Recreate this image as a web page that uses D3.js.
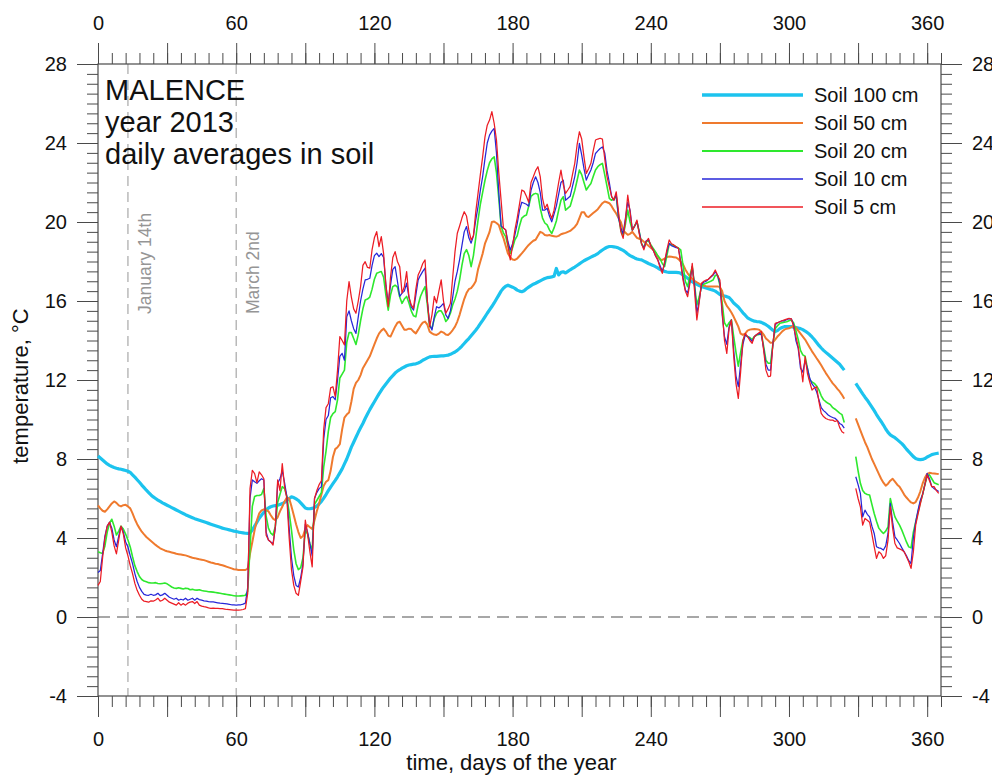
<!DOCTYPE html>
<html lang="en">
<head>
<meta charset="UTF-8" />
<title>MALENCE - soil temperature 2013</title>
<script src="https://d3js.org/d3.v7.min.js"></script>
<style>
  body { margin: 0; background: #fff; }
  svg { display: block; font-family: "Liberation Sans", Arial, sans-serif; }
</style>
</head>
<body>
<svg id="chart"></svg>
<script>
// daily averages, index = day of the year (0 = January 1st), null = no data
var soil100 = [
  8.15, 8.05, 7.95, 7.85, 7.75, 7.68, 7.62, 7.57, 7.53, 7.5,
  7.48, 7.45, 7.42, 7.38, 7.32, 7.2, 7.08, 6.95, 6.82, 6.68,
  6.55, 6.42, 6.3, 6.18, 6.08, 6.0, 5.92, 5.85, 5.78, 5.72,
  5.66, 5.6, 5.54, 5.48, 5.42, 5.36, 5.3, 5.24, 5.18, 5.13,
  5.08, 5.03, 4.98, 4.94, 4.9, 4.86, 4.82, 4.78, 4.74, 4.7,
  4.66, 4.62, 4.58, 4.54, 4.5, 4.47, 4.44, 4.41, 4.38, 4.35,
  4.33, 4.3, 4.28, 4.26, 4.24, 4.23, 4.25, 4.4, 4.6, 4.8,
  5.0, 5.15, 5.3, 5.42, 5.52, 5.58, 5.62, 5.64, 5.66, 5.7,
  5.74, 5.8, 5.9, 6.0, 6.08, 6.05, 5.98, 5.9, 5.78, 5.65,
  5.52, 5.48, 5.48, 5.5, 5.55, 5.62, 5.72, 5.85, 6.02, 6.2,
  6.4, 6.58, 6.75, 6.92, 7.1, 7.3, 7.5, 7.75, 8.0, 8.3,
  8.6, 8.85, 9.1, 9.35, 9.58, 9.8, 10.05, 10.28, 10.5, 10.7,
  10.9, 11.1, 11.3, 11.48, 11.65, 11.8, 11.95, 12.1, 12.22, 12.35,
  12.45, 12.52, 12.6, 12.66, 12.72, 12.76, 12.78, 12.8, 12.82, 12.86,
  12.92, 13.0, 13.06, 13.12, 13.17, 13.19, 13.2, 13.2, 13.21, 13.22,
  13.22, 13.24, 13.26, 13.3, 13.36, 13.42, 13.5, 13.6, 13.72, 13.85,
  13.98, 14.1, 14.24, 14.38, 14.52, 14.68, 14.85, 15.02, 15.2, 15.38,
  15.55, 15.72, 15.9, 16.1, 16.3, 16.5, 16.65, 16.75, 16.8, 16.75,
  16.7, 16.64, 16.55, 16.5, 16.47, 16.52, 16.62, 16.7, 16.78, 16.85,
  16.9, 16.96, 17.02, 17.08, 17.14, 17.18, 17.2, 17.22, 17.25, 17.65,
  17.32, 17.45, 17.48, 17.42, 17.5, 17.58, 17.65, 17.72, 17.8, 17.88,
  17.96, 18.04, 18.1, 18.16, 18.22, 18.28, 18.33, 18.4, 18.5, 18.58,
  18.66, 18.72, 18.76, 18.76, 18.74, 18.72, 18.68, 18.62, 18.56, 18.48,
  18.38, 18.3, 18.24, 18.18, 18.13, 18.1, 18.08, 18.02, 17.96, 17.9,
  17.85, 17.8, 17.74, 17.68, 17.6, 17.54, 17.5, 17.47, 17.45, 17.45,
  17.45, 17.45, 17.44, 17.4, 17.32, 17.24, 17.15, 17.06, 16.98, 16.9,
  16.84, 16.78, 16.73, 16.7, 16.66, 16.62, 16.58, 16.55, 16.5, 16.42,
  16.33, 16.28, 16.25, 16.22, 16.18, 16.05, 15.9, 15.8, 15.7, 15.55,
  15.4, 15.28, 15.15, 15.08, 15.02, 14.98, 14.96, 14.95, 14.92, 14.86,
  14.8, 14.72, 14.62, 14.52, 14.45, 14.5, 14.6, 14.66, 14.7, 14.7,
  14.7, 14.7, 14.68, 14.66, 14.63, 14.6, 14.55, 14.48, 14.4, 14.3,
  14.18, 14.05, 13.9, 13.75, 13.62, 13.5, 13.4, 13.3, 13.2, 13.1,
  13.0, 12.9, 12.8, 12.65, 12.5, null, null, null, null, 11.83,
  11.65, 11.48, 11.3, 11.13, 10.98, 10.8, 10.63, 10.45, 10.25, 10.07,
  9.9, 9.72, 9.52, 9.35, 9.22, 9.15, 9.08, 8.98, 8.88, 8.78,
  8.65, 8.5, 8.37, 8.25, 8.12, 8.03, 7.98, 7.97, 7.98, 8.02,
  8.1, 8.16, 8.22, 8.25, 8.28, 8.3
];

var soil50 = [
  5.65, 5.5, 5.38, 5.33, 5.45, 5.6, 5.75, 5.85, 5.78, 5.65,
  5.6, 5.66, 5.68, 5.6, 5.5, 5.25, 4.95, 4.7, 4.5, 4.32,
  4.18, 4.05, 3.95, 3.85, 3.75, 3.65, 3.56, 3.48, 3.42, 3.37,
  3.33, 3.3, 3.27, 3.24, 3.2, 3.18, 3.16, 3.14, 3.12, 3.08,
  3.04, 3.0, 2.98, 2.95, 2.92, 2.9, 2.88, 2.84, 2.8, 2.76,
  2.73, 2.7, 2.68, 2.65, 2.62, 2.58, 2.54, 2.5, 2.46, 2.42,
  2.4, 2.38, 2.38, 2.38, 2.38, 2.45, 3.2, 3.8, 4.4, 4.9,
  5.25, 5.4, 5.45, 5.42, 5.35, 5.15, 4.98, 4.9, 5.05, 5.35,
  5.58, 5.85, 6.05, 6.0, 5.6, 5.15, 4.7, 4.3, 4.0, 4.1,
  4.45, 4.65, 4.55, 4.45, 4.9, 5.35, 5.75, 6.2, 6.65, 6.85,
  6.93, 7.4, 8.1, 8.5, 8.6, 8.75, 9.5, 10.1, 10.25, 10.35,
  10.9, 11.55, 11.85, 12.0, 12.25, 12.6, 12.8, 13.0, 13.2, 13.5,
  13.8, 14.1, 14.35, 14.5, 14.6, 14.45, 14.25, 14.2, 14.45, 14.7,
  14.9, 14.95, 14.75, 14.55, 14.55, 14.6, 14.58, 14.45, 14.36, 14.55,
  14.75, 14.9, 14.96, 14.8, 14.45, 14.36, 14.3, 14.28, 14.35, 14.45,
  14.4, 14.3, 14.28, 14.38, 14.53, 14.7, 14.96, 15.3, 15.71, 16.1,
  16.4, 16.6, 16.65, 16.8, 17.0, 17.6, 18.0, 18.4, 18.9, 19.2,
  19.5, 20.0, 20.02, 19.95, 19.85, 19.5, 19.2, 18.8, 18.4, 18.2,
  18.1, 18.08, 18.15, 18.28, 18.41, 18.55, 18.7, 18.84, 18.95, 19.05,
  19.1, 19.3, 19.5, 19.45, 19.34, 19.32, 19.34, 19.3, 19.28, 19.26,
  19.3, 19.38, 19.42, 19.45, 19.5, 19.55, 19.65, 19.75, 19.9, 20.2,
  20.5, 20.5, 20.3, 20.25, 20.35, 20.45, 20.55, 20.65, 20.8, 20.95,
  21.04, 21.0, 20.95, 20.8, 20.6, 20.43, 20.2, 20.0, 19.6, 19.45,
  19.35, 19.4, 19.5, 19.35, 19.2, 19.15, 19.1, 19.0, 18.9, 18.8,
  18.7, 18.6, 18.45, 18.25, 18.1, 18.08, 18.15, 18.22, 18.25, 18.24,
  18.22, 18.2, 18.12, 18.0, 17.85, 17.6, 17.4, 17.25, 17.12, 17.02,
  16.95, 16.88, 16.82, 16.78, 16.75, 16.73, 16.73, 16.73, 16.74, 16.74,
  16.7, 16.5, 16.0, 15.75, 15.6, 15.42, 15.2, 14.95, 14.7, 14.35,
  14.28, 14.35, 14.5, 14.55, 14.57, 14.58, 14.57, 14.55, 14.45, 14.3,
  14.1, 14.0, 13.88, 13.9, 14.05, 14.2, 14.32, 14.45, 14.55, 14.6,
  14.62, 14.68, 14.74, 14.65, 14.5, 14.35, 14.2, 14.05, 13.85, 13.65,
  13.45, 13.28, 13.1, 12.93, 12.75, 12.55, 12.35, 12.18, 12.0, 11.83,
  11.7, 11.55, 11.42, 11.25, 11.05, null, null, null, null, 10.06,
  9.75, 9.45, 9.15, 8.85, 8.6, 8.3, 8.0, 7.75, 7.5, 7.25,
  7.0, 6.8, 6.65, 6.75, 6.9, 7.0, 6.85, 6.7, 6.6, 6.4,
  6.2, 6.05, 5.92, 5.8, 5.75, 5.82, 6.05, 6.35, 6.75, 7.05,
  7.25, 7.3, 7.28, 7.27, 7.25, 7.24
];

var soil20 = [
  3.3, 3.25, 3.22, 3.6, 4.3, 4.75, 4.95, 4.6, 4.15, 4.35,
  4.6, 4.45, 4.2, 3.9, 3.55, 3.05, 2.6, 2.3, 2.05, 1.9,
  1.82, 1.78, 1.74, 1.72, 1.72, 1.74, 1.7, 1.68, 1.7, 1.72,
  1.68, 1.6, 1.52, 1.47, 1.45, 1.48, 1.45, 1.42, 1.46, 1.44,
  1.38, 1.4, 1.37, 1.36, 1.38, 1.34, 1.32, 1.3, 1.28, 1.27,
  1.26, 1.24, 1.22, 1.2, 1.18, 1.16, 1.14, 1.12, 1.1, 1.08,
  1.06, 1.06, 1.07, 1.08, 1.1, 1.3, 3.5, 5.6, 6.1, 6.15,
  6.15, 6.2, 6.5, 5.1, 4.5, 4.25, 4.15, 4.6, 5.8, 6.2,
  6.6, 6.5, 6.1, 5.3, 4.4, 3.4, 2.7, 2.4, 2.5, 3.0,
  4.4, 4.2, 3.7, 3.4, 5.7, 5.9, 6.1, 6.3, 7.6, 8.4,
  9.4, 10.1, 10.3, 10.4, 11.0, 12.1, 12.3, 12.5, 13.9, 14.4,
  14.4, 14.1, 13.8, 14.3, 15.0, 15.6, 16.05, 16.1, 16.2, 16.6,
  17.1, 17.4, 17.45, 17.49, 17.2, 16.3, 15.54, 16.3, 16.73, 16.8,
  16.7, 16.2, 15.88, 16.1, 16.23, 15.9, 15.5, 15.25, 15.2, 15.8,
  16.23, 16.5, 16.73, 15.8, 14.7, 14.62, 15.1, 15.38, 15.5, 15.5,
  15.3, 14.96, 15.1, 15.38, 15.8, 16.1, 16.5, 17.07, 17.8, 18.4,
  18.6, 18.3, 17.74, 18.3, 19.2, 20.1, 20.9, 21.5, 22.1, 22.6,
  23.0, 23.2, 23.3, 22.5, 21.2, 19.8, 19.45, 19.26, 18.8, 18.41,
  18.7, 19.1, 19.3, 19.8, 20.2, 20.3, 20.35, 20.8, 21.3, 21.4,
  21.45, 21.4, 20.7, 20.2, 19.95, 19.85, 19.6, 19.42, 19.7, 20.05,
  20.6, 21.1, 21.28, 20.6, 20.7, 20.8, 21.2, 21.6, 22.1, 22.63,
  22.4, 22.0, 21.62, 21.8, 21.95, 22.3, 22.63, 22.8, 22.9, 22.97,
  22.4, 21.8, 21.2, 21.1, 21.2, 21.28, 20.3, 19.6, 19.3, 19.9,
  20.6, 20.0, 19.59, 19.8, 20.01, 19.5, 18.9, 18.7, 19.0, 19.05,
  18.85, 18.67, 18.5, 18.3, 18.15, 17.9, 17.74, 18.3, 18.9, 18.85,
  18.8, 18.75, 18.68, 18.59, 17.8, 17.0, 16.73, 17.3, 17.74, 16.8,
  15.8, 16.2, 16.73, 16.85, 16.9, 16.95, 17.0, 17.06, 17.3, 17.3,
  16.8, 15.9, 14.9, 14.7, 14.9, 15.04, 14.2, 13.4, 12.7, 13.4,
  14.0, 14.3, 14.2, 14.15, 14.05, 14.2, 14.28, 14.3, 14.36, 13.7,
  13.0, 12.85, 12.85, 13.8, 14.6, 14.75, 14.87, 14.9, 14.93, 14.95,
  15.0, 15.04, 14.9, 14.5, 14.05, 13.5, 13.27, 13.2, 12.6, 12.0,
  11.9, 11.83, 11.7, 11.5, 11.2, 11.0, 10.9, 10.82, 10.75, 10.6,
  10.52, 10.42, 10.32, 10.25, 9.85, null, null, null, null, 8.12,
  7.4, 6.77, 6.4, 6.26, 6.2, 6.18, 5.7, 5.24, 4.85, 4.5,
  4.35, 4.23, 4.35, 4.56, 6.0, 5.5, 5.07, 4.85, 4.65, 4.4,
  4.1, 3.8, 3.55, 3.5, 4.3, 4.8, 5.3, 5.8, 6.2, 6.7,
  7.15, 7.2, 7.0, 6.8, 6.75, 6.7
];

var soil10 = [
  2.25, 2.35, 3.2, 4.1, 4.6, 4.8, 4.5, 3.9, 3.56, 4.1,
  4.57, 4.3, 3.8, 3.55, 3.1, 2.7, 2.2, 1.8, 1.5, 1.3,
  1.15, 1.11, 1.1, 1.15, 1.1, 1.12, 1.2, 1.08, 1.12, 1.2,
  1.1, 1.0, 0.95, 0.9, 0.95, 0.85, 0.9, 0.86, 0.95, 0.85,
  0.9, 0.95, 0.85, 0.95, 0.88, 0.85, 0.82, 0.8, 0.78, 0.77,
  0.76, 0.74, 0.72, 0.7, 0.69, 0.68, 0.66, 0.64, 0.62, 0.61,
  0.6, 0.61, 0.62, 0.65, 0.7, 1.5, 6.0, 6.94, 6.85, 6.77,
  6.9, 7.0, 6.94, 4.3, 3.9, 3.8, 3.72, 4.5, 6.77, 7.0,
  7.4, 6.8, 6.09, 4.5, 3.0, 2.1, 1.6, 1.52, 2.0, 2.7,
  4.7, 4.3, 3.7, 3.1, 6.0, 6.3, 6.5, 6.6, 9.0, 10.0,
  10.2, 11.1, 11.16, 11.0, 12.0, 13.2, 13.35, 13.0, 15.2, 15.5,
  15.0, 14.6, 14.36, 15.2, 16.0, 16.6, 17.07, 17.1, 17.15, 17.8,
  18.3, 18.42, 18.25, 18.4, 18.2, 16.8, 15.88, 16.8, 17.6, 17.74,
  17.0, 16.23, 16.4, 16.5, 16.9, 16.2, 15.7, 15.54, 16.3, 17.07,
  17.3, 17.5, 17.66, 16.0, 14.8, 14.53, 15.2, 15.71, 15.65, 15.75,
  15.88, 15.3, 15.12, 15.5, 16.2, 17.0, 17.5, 18.1, 18.8, 19.5,
  19.77, 19.2, 18.93, 19.3, 20.1, 20.78, 21.6, 22.3, 23.2, 24.0,
  24.4, 24.6, 24.74, 23.5, 21.5, 19.8, 19.7, 19.6, 19.0, 18.58,
  18.9, 19.35, 19.9, 20.6, 21.0, 20.95, 20.9, 20.8, 21.6, 22.0,
  22.29, 22.0, 21.5, 20.6, 20.6, 20.7, 20.3, 20.01, 20.4, 20.8,
  21.4, 22.0, 22.12, 21.1, 21.2, 21.3, 21.8, 22.3, 23.0, 23.98,
  23.4, 22.7, 22.12, 22.4, 22.63, 23.0, 23.47, 23.6, 23.72, 23.8,
  23.5, 22.6, 22.0, 21.28, 21.1, 21.4, 20.18, 19.7, 19.4, 20.2,
  21.0, 20.6, 19.59, 19.8, 20.01, 19.5, 18.9, 18.67, 19.05, 19.1,
  18.8, 18.59, 18.3, 18.1, 17.8, 17.49, 17.9, 18.5, 18.92, 18.8,
  18.75, 18.7, 18.67, 18.0, 17.2, 16.56, 16.4, 17.0, 17.74, 16.8,
  15.38, 16.0, 16.8, 16.95, 17.0, 17.1, 17.2, 17.3, 17.48, 17.3,
  16.9, 15.3, 14.2, 13.8, 14.7, 15.04, 13.5, 12.2, 11.66, 12.8,
  13.8, 14.28, 14.2, 14.1, 13.95, 14.2, 14.3, 14.35, 14.3, 13.6,
  12.8, 12.5, 12.5, 13.8, 14.8, 14.9, 14.95, 15.0, 15.0, 15.05,
  15.1, 15.1, 14.8, 14.0, 13.6, 12.6, 12.4, 13.0, 12.6, 12.1,
  11.8, 11.65, 11.4, 11.0, 10.6, 10.45, 10.35, 10.23, 10.15, 10.1,
  10.06, 9.95, 9.8, 9.73, 9.56, null, null, null, null, 7.1,
  6.7, 6.26, 5.07, 5.41, 5.2, 5.07, 4.6, 4.23, 3.56, 3.5,
  3.47, 3.39, 3.6, 4.23, 5.75, 4.8, 4.06, 3.9, 3.72, 3.5,
  3.3, 3.1, 2.85, 2.71, 4.0, 4.8, 5.4, 5.9, 6.2, 6.7,
  7.27, 7.0, 6.6, 6.5, 6.43, 6.35
];

var soil5 = [
  1.6, 1.8, 3.0, 4.0, 4.6, 4.8, 4.3, 3.6, 3.2, 3.9,
  4.6, 4.2, 3.5, 3.1, 2.6, 2.2, 1.7, 1.35, 1.1, 0.9,
  0.8, 0.78, 0.75, 0.82, 0.8, 0.86, 0.95, 0.8, 0.85, 0.95,
  0.85, 0.75, 0.7, 0.65, 0.6, 0.72, 0.6, 0.68, 0.6, 0.7,
  0.75, 0.78, 0.68, 0.78, 0.6, 0.55, 0.52, 0.5, 0.46, 0.44,
  0.45, 0.44, 0.44, 0.43, 0.42, 0.4, 0.38, 0.37, 0.36, 0.35,
  0.35, 0.35, 0.36, 0.38, 0.42, 1.2, 6.5, 7.43, 7.26, 6.8,
  7.35, 7.2, 7.0, 4.14, 3.9, 3.8, 3.64, 4.6, 6.94, 6.4,
  7.77, 6.6, 6.0, 4.0, 2.4, 1.6, 1.2, 1.1, 1.8, 2.54,
  4.9, 4.2, 3.3, 2.54, 6.0, 6.4, 6.7, 6.9, 9.5, 10.6,
  10.8, 11.6, 11.66, 11.16, 12.5, 14.2, 14.0, 13.78, 16.0, 16.98,
  16.2, 15.6, 15.38, 16.0, 16.73, 17.8, 17.99, 17.7, 17.66, 18.6,
  19.2, 19.51, 18.75, 19.26, 18.4, 16.8, 15.71, 17.2, 18.2, 18.5,
  18.0, 17.74, 16.4, 16.72, 17.49, 16.2, 15.8, 15.63, 16.6, 17.32,
  17.57, 17.9, 18.08, 16.0, 14.7, 15.3, 16.23, 15.9, 16.5, 17.07,
  16.0, 15.38, 15.6, 15.88, 17.2, 18.5, 19.43, 19.8, 20.2, 20.52,
  20.3, 19.6, 19.09, 19.3, 20.5, 21.45, 22.4, 23.3, 24.3, 24.9,
  25.16, 25.59, 25.0, 24.15, 22.5, 21.11, 19.7, 19.6, 18.8, 18.08,
  18.8, 19.6, 20.2, 20.9, 21.62, 21.55, 21.3, 21.0, 22.0, 22.29,
  22.6, 22.8, 22.3, 21.2, 20.68, 20.9, 20.5, 20.18, 20.6, 21.3,
  22.0, 22.63, 21.9, 21.45, 21.62, 21.8, 22.4, 22.97, 23.9, 24.57,
  24.2, 23.3, 22.46, 22.7, 22.97, 23.6, 24.15, 24.2, 24.24, 24.2,
  23.2, 22.3, 21.78, 21.3, 21.11, 21.53, 20.5, 19.5, 19.17, 20.1,
  21.36, 20.5, 19.59, 19.8, 20.1, 19.4, 18.9, 18.59, 19.0, 19.17,
  18.8, 18.59, 18.3, 18.08, 17.7, 17.4, 18.0, 18.6, 19.09, 18.9,
  18.84, 18.75, 18.67, 17.9, 17.06, 16.5, 16.22, 16.9, 17.91, 16.5,
  15.04, 15.9, 16.9, 17.0, 17.06, 17.1, 17.23, 17.35, 17.57, 17.3,
  17.06, 15.5, 14.0, 13.35, 14.6, 15.04, 13.2, 11.8, 11.07, 12.4,
  14.0, 14.36, 14.2, 14.0, 13.86, 14.2, 14.3, 14.4, 14.45, 13.5,
  12.5, 12.17, 12.2, 13.8, 14.87, 14.9, 14.95, 15.0, 15.04, 15.08,
  15.12, 15.1, 14.7, 14.2, 13.69, 12.8, 11.91, 13.18, 12.34, 11.9,
  11.49, 11.6, 11.66, 10.9, 10.31, 10.15, 10.05, 10.0, 9.97, 9.97,
  9.9, 9.95, 9.6, 9.38, 9.3, null, null, null, null, 6.51,
  6.0, 5.58, 4.65, 4.99, 4.9, 4.8, 4.2, 3.56, 2.97, 3.3,
  3.2, 2.97, 3.1, 3.89, 5.58, 4.5, 3.72, 3.5, 3.45, 3.39,
  3.3, 3.05, 2.8, 2.46, 3.3, 4.65, 5.2, 5.7, 6.2, 6.7,
  7.19, 6.9, 6.6, 6.6, 6.4, 6.26
];

var seriesNames = ["Soil 100 cm", "Soil 50 cm", "Soil 20 cm", "Soil 10 cm", "Soil 5 cm"];
var seriesValues = [soil100, soil50, soil20, soil10, soil5];
var seriesColors = ["#1cc3ee", "#ef7a2e", "#2ee82e", "#2626d8", "#ec1c24"];
var seriesWidths = [3.2, 2, 1.6, 1.25, 1.25];

var markerDays = [13, 60];
var markerLabels = ["January 14th", "March 2nd"];

var titleLines = ["MALENCE", "year 2013", "daily averages in soil"];

var width = 992, height = 776;
var plotL = 98, plotR = 941, plotT = 64, plotB = 696;
var axisColor = "#4a4a4a";

var svg = d3.select("#chart")
    .attr("width", width)
    .attr("height", height);

svg.append("rect").attr("width", width).attr("height", height).attr("fill", "#fff");

var x = d3.scaleLinear().domain([0, 366]).range([plotL, plotR]);
var y = d3.scaleLinear().domain([-4, 28]).range([plotB, plotT]);

// reference lines
svg.append("line")
    .attr("x1", plotL).attr("x2", plotR)
    .attr("y1", y(0)).attr("y2", y(0))
    .attr("stroke", "#8a8a8a").attr("stroke-width", 1.4)
    .attr("stroke-dasharray", "12,7");

svg.selectAll(".marker")
    .data(markerDays)
    .enter()
    .append("line")
    .attr("class", "marker")
    .attr("x1", d => x(d)).attr("x2", d => x(d))
    .attr("y1", plotT).attr("y2", plotB)
    .attr("stroke", "#a8a8a8").attr("stroke-width", 1.2)
    .attr("stroke-dasharray", "10,6");

svg.selectAll(".marker-label")
    .data(markerDays)
    .enter()
    .append("text")
    .attr("class", "marker-label")
    .attr("transform", d => `translate(${x(d) + 23}, 314) rotate(-90)`)
    .attr("font-size", 17.5)
    .attr("fill", "#959595")
    .text((d, i) => markerLabels[i]);

// axes
function styleAxis(g) {
    g.select(".domain").remove();
    g.selectAll(".tick line").attr("stroke", axisColor);
    g.selectAll(".tick text").attr("fill", "#111").attr("font-size", 20)
        .attr("font-family", '"Liberation Sans", Arial, sans-serif');
}

var xMinor = d3.range(0, 367, 6);
var xMajor = d3.range(0, 361, 30);
var xLabel = d => (d % 60 === 0 ? String(d) : "");
var yMinor = d3.range(-4, 28.01, 0.5);
var yMajor = d3.range(-4, 28.01, 4);
var yLabel = d => String(d);

svg.append("g").attr("transform", `translate(0,${plotB})`)
    .call(d3.axisBottom(x).tickValues(xMinor).tickSize(11).tickFormat("")).call(styleAxis);
svg.append("g").attr("transform", `translate(0,${plotB})`)
    .call(d3.axisBottom(x).tickValues(xMajor).tickSize(21).tickPadding(15).tickFormat(xLabel)).call(styleAxis);
svg.append("g").attr("transform", `translate(0,${plotT})`)
    .call(d3.axisTop(x).tickValues(xMinor).tickSize(11).tickFormat("")).call(styleAxis);
svg.append("g").attr("transform", `translate(0,${plotT})`)
    .call(d3.axisTop(x).tickValues(xMajor).tickSize(21).tickPadding(13).tickFormat(xLabel)).call(styleAxis);

svg.append("g").attr("transform", `translate(${plotL},0)`)
    .call(d3.axisLeft(y).tickValues(yMinor).tickSize(11).tickFormat("")).call(styleAxis);
svg.append("g").attr("transform", `translate(${plotL},0)`)
    .call(d3.axisLeft(y).tickValues(yMajor).tickSize(21).tickPadding(10).tickFormat(yLabel)).call(styleAxis);
svg.append("g").attr("transform", `translate(${plotR},0)`)
    .call(d3.axisRight(y).tickValues(yMinor).tickSize(11).tickFormat("")).call(styleAxis);
svg.append("g").attr("transform", `translate(${plotR},0)`)
    .call(d3.axisRight(y).tickValues(yMajor).tickSize(21).tickPadding(10).tickFormat(yLabel)).call(styleAxis);

// frame
svg.append("rect")
    .attr("x", plotL).attr("y", plotT)
    .attr("width", plotR - plotL).attr("height", plotB - plotT)
    .attr("fill", "none").attr("stroke", axisColor).attr("stroke-width", 1.2);

// series
var line = d3.line()
    .defined(d => d != null)
    .x((d, i) => x(i))
    .y(d => y(d));

svg.selectAll(".series")
    .data(seriesValues)
    .enter()
    .append("path")
    .attr("class", "series")
    .attr("d", d => line(d))
    .attr("fill", "none")
    .attr("stroke", (d, i) => seriesColors[i])
    .attr("stroke-width", (d, i) => seriesWidths[i])
    .attr("stroke-linejoin", "round");

// title
svg.append("text")
    .attr("x", 105).attr("y", 100)
    .attr("font-size", 29).attr("fill", "#111")
    .selectAll("tspan")
    .data(titleLines)
    .enter()
    .append("tspan")
    .attr("x", 105)
    .attr("dy", (d, i) => (i === 0 ? 0 : 32))
    .text(d => d);

// legend
var legend = svg.append("g");
seriesNames.forEach(function (name, i) {
    var ly = 95 + i * 28;
    legend.append("line")
        .attr("x1", 702).attr("x2", 803)
        .attr("y1", ly).attr("y2", ly)
        .attr("stroke", seriesColors[i])
        .attr("stroke-width", seriesWidths[i] + 0.2);
    legend.append("text")
        .attr("x", 814).attr("y", ly)
        .attr("dy", "0.35em")
        .attr("font-size", 20).attr("fill", "#111")
        .text(name);
});

// axis titles
svg.append("text")
    .attr("x", (plotL + plotR) / 2 - 8).attr("y", 770)
    .attr("text-anchor", "middle")
    .attr("font-size", 22).attr("fill", "#111")
    .text("time, days of the year");

svg.append("text")
    .attr("transform", "translate(28, 386) rotate(-90)")
    .attr("text-anchor", "middle")
    .attr("font-size", 22).attr("fill", "#111")
    .text("temperature, °C");
</script>
</body>
</html>
